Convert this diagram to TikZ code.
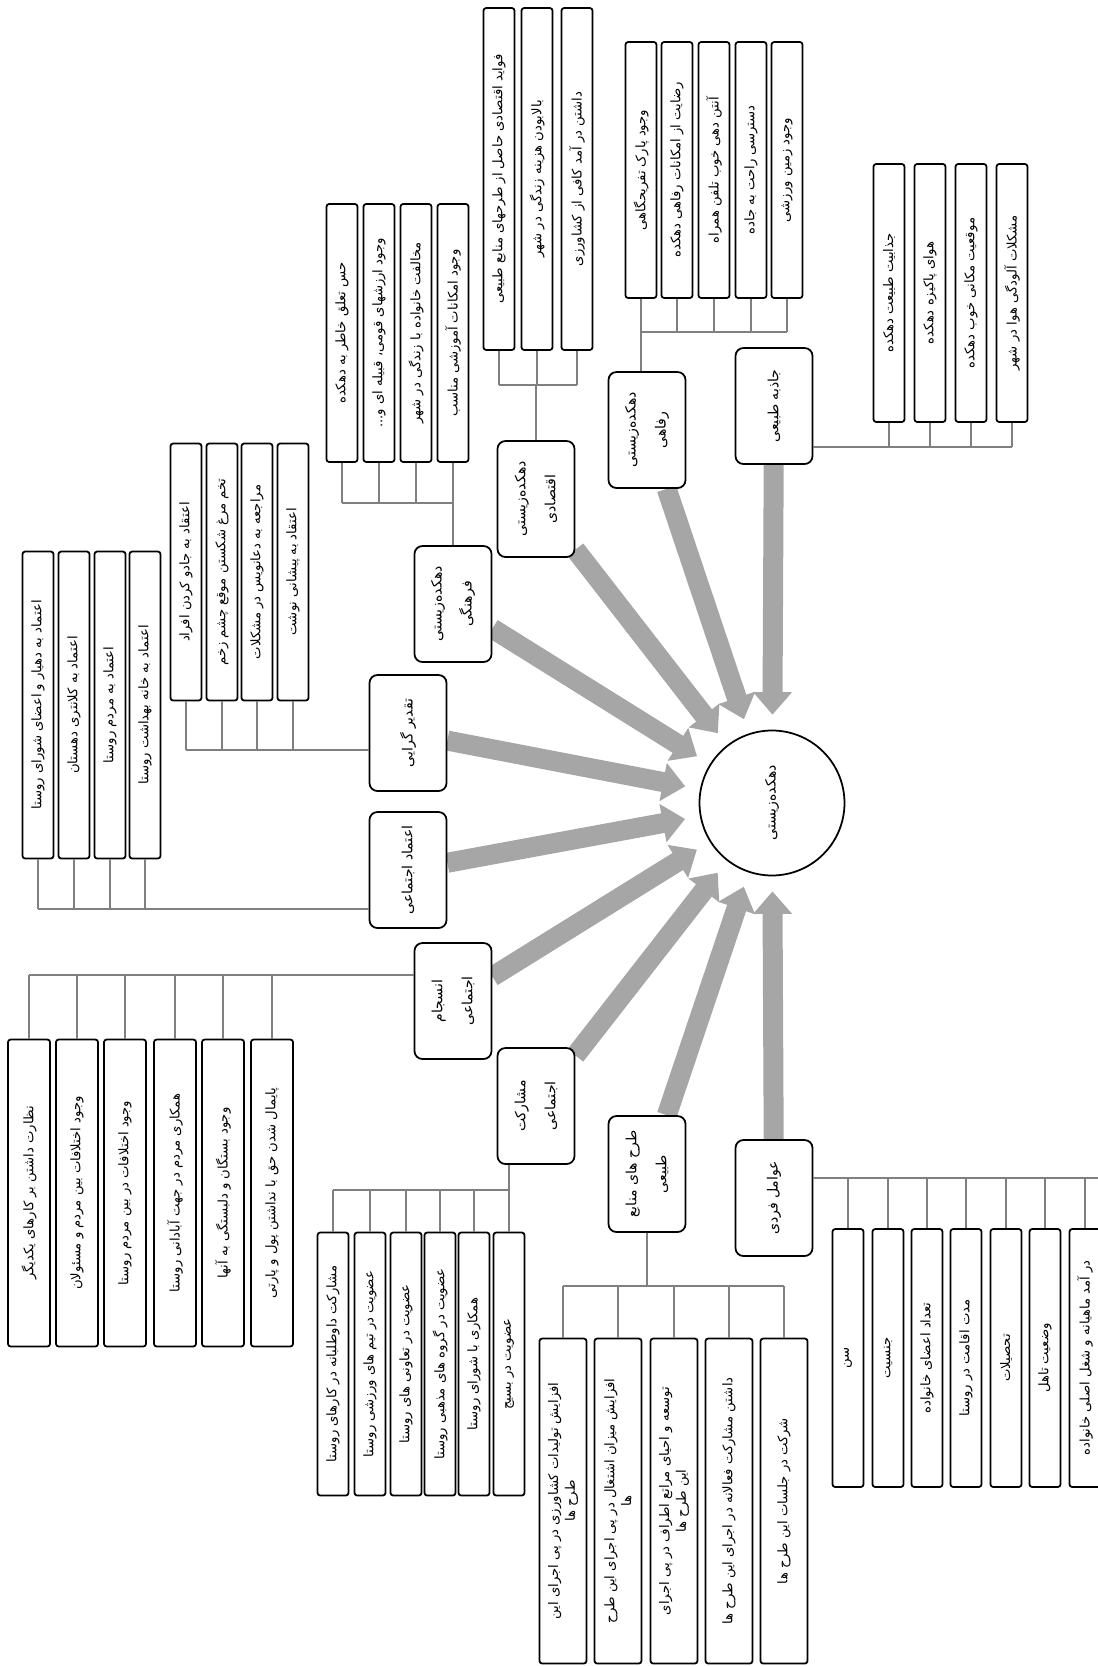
\documentclass[tikz,border=0pt]{standalone}
\usepackage{fontspec}
\usepackage{tikz}
\usetikzlibrary{arrows.meta,backgrounds}
\TeXXeTstate=1
\newfontfamily\fafont[Script=Arabic]{DejaVu Sans}
\newcommand{\fa}[1]{\beginR #1\endR}
\definecolor{arrowgray}{RGB}{166,166,166}
\definecolor{linkgray}{RGB}{128,128,128}
\tikzset{
  hub/.style={circle,draw=black,line width=1pt,fill=white,minimum size=2.9cm,rotate=90,
              font=\fafont\fontsize{8}{10}\selectfont},
  factor/.style={rectangle,rounded corners=4.5pt,draw=black,line width=1pt,fill=white,rotate=90,
              minimum width=2.32cm,minimum height=1.54cm,align=center,font=\fafont\fontsize{8}{17}\selectfont},
  item/.style={rectangle,rounded corners=1.5pt,draw=black,line width=1pt,fill=white,rotate=90,
              minimum width=#1,minimum height=0.62cm,inner sep=1pt,align=center,
              font=\fafont\fontsize{7.5}{9.5}\selectfont},
  item/.default=5.16cm,
  link/.style={draw=linkgray,line width=0.6pt},
  push/.style={draw=arrowgray,line width=0.4cm,-{Triangle[width=0.75cm,length=0.45cm]},shorten >=0.3cm},
}

\begin{document}
\begin{tikzpicture}[x=0.02cm,y=-0.02cm]
  \useasboundingbox (0,0) rectangle (1098,1666);
  \node[hub] (hub) at (772,803) {\fa{دهکده‌زیستی}};

  \node[factor] (jazbeh) at (774,406) {\fa{جاذبه طبیعی}};
  \node[factor] (refahi) at (647,430) {\fa{دهکده‌زیستی}\\\fa{رفاهی}};
  \node[factor] (eqtesadi) at (536,499) {\fa{دهکده‌زیستی}\\\fa{اقتصادی}};
  \node[factor] (farhangi) at (453,604) {\fa{دهکده‌زیستی}\\\fa{فرهنگی}};
  \node[factor] (taqdir) at (408,733) {\fa{تقدیر گرایی}};
  \node[factor] (etemad) at (408,870) {\fa{اعتماد اجتماعی}};
  \node[factor] (ensejam) at (453,1001) {\fa{انسجام}\\\fa{اجتماعی}};
  \node[factor] (mosharekat) at (536,1106) {\fa{مشارکت}\\\fa{اجتماعی}};
  \node[factor] (tarh) at (647,1174) {\fa{طرح های منابع}\\\fa{طبیعی}};
  \node[factor] (fardi) at (774,1198) {\fa{عوامل فردی}};

  % jazbeh tabiei
  \node[item] (a1) at (889,293) {\fa{جذابیت طبیعت دهکده}};
  \node[item] (a2) at (930,293) {\fa{هوای پاکیزه دهکده}};
  \node[item] (a3) at (971,293) {\fa{موقعیت مکانی خوب دهکده}};
  \node[item] (a4) at (1012,293) {\fa{مشکلات آلودگی هوا در شهر}};
  % refahi
  \node[item=5.12cm] (b1) at (641,170) {\fa{وجود پارک تفریحگاهی}};
  \node[item=5.12cm] (b2) at (677,170) {\fa{رضایت از امکانات رفاهی دهکده}};
  \node[item=5.12cm] (b3) at (714,170) {\fa{آنتن دهی خوب تلفن همراه}};
  \node[item=5.12cm] (b4) at (751,170) {\fa{دسترسی راحت به جاده}};
  \node[item=5.12cm] (b5) at (787,170) {\fa{وجود زمین ورزشی}};
  % eqtesadi
  \node[item=6.84cm] (c1) at (499,179) {\fa{فواید اقتصادی حاصل از طرحهای منابع طبیعی}};
  \node[item=6.84cm] (c2) at (537,179) {\fa{بالابودن هزینه زندگی در شهر}};
  \node[item=6.84cm] (c3) at (577,179) {\fa{داشتن در آمد کافی از کشاورزی}};
  % farhangi
  \node[item] (d1) at (342,333) {\fa{حس تعلق خاطر به دهکده}};
  \node[item] (d2) at (379,333) {\fa{وجود ارزشهای قومی، قبیله ای و...}};
  \node[item] (d3) at (416,333) {\fa{مخالفت خانواده با زندگی در شهر}};
  \node[item] (d4) at (453,333) {\fa{وجود امکانات آموزشی مناسب}};
  % taqdir garaei
  \node[item=5.14cm] (e1) at (186,572) {\fa{اعتقاد به جادو کردن افراد}};
  \node[item=5.14cm] (e2) at (222,572) {\fa{تخم مرغ شکستن موقع چشم زخم}};
  \node[item=5.14cm] (e3) at (257,572) {\fa{مراجعه به دعانویس در مشکلات}};
  \node[item=5.14cm] (e4) at (293,572) {\fa{اعتقاد به پیشانی نوشت}};
  % etemad
  \node[item=6.14cm] (f1) at (38,705) {\fa{اعتماد به دهیار و اعضای شورای روستا}};
  \node[item=6.14cm] (f2) at (74,705) {\fa{اعتماد به کلانتری دهستان}};
  \node[item=6.14cm] (f3) at (110,705) {\fa{اعتماد به مردم روستا}};
  \node[item=6.14cm] (f4) at (145,705) {\fa{اعتماد به خانه بهداشت روستا}};
  % ensejam
  \node[item=6.14cm,minimum height=0.84cm] (g1) at (29,1193) {\fa{نظارت داشتن بر کارهای یکدیگر}};
  \node[item=6.14cm,minimum height=0.84cm] (g2) at (77,1193) {\fa{وجود اختلافات بین مردم و مسئولان}};
  \node[item=6.14cm,minimum height=0.84cm] (g3) at (125,1193) {\fa{وجود اختلافات در بین مردم روستا}};
  \node[item=6.14cm,minimum height=0.84cm] (g4) at (175,1193) {\fa{همکاری مردم در جهت آبادانی روستا}};
  \node[item=6.14cm,minimum height=0.84cm] (g5) at (223,1193) {\fa{وجود بستگان و دلبستگی به آنها}};
  \node[item=6.14cm,minimum height=0.84cm] (g6) at (272,1193) {\fa{پایمال شدن حق با نداشتن پول و پارتی}};
  % mosharekat
  \node[item=5.26cm] (h1) at (333,1364) {\fa{مشارکت داوطلبانه در کارهای روستا}};
  \node[item=5.26cm] (h2) at (370,1364) {\fa{عضویت در تیم های ورزشی روستا}};
  \node[item=5.26cm] (h3) at (406,1364) {\fa{عضویت در تعاونی های روستا}};
  \node[item=5.26cm] (h4) at (440,1364) {\fa{عضویت در گروه های مذهبی روستا}};
  \node[item=5.26cm] (h5) at (474,1364) {\fa{همکاری با شورای روستا}};
  \node[item=5.26cm] (h6) at (509,1364) {\fa{عضویت در بسیج}};
  % tarh
  \node[item=6.5cm,minimum height=0.94cm] (i1) at (563,1501) {\fa{افزایش تولیدات کشاورزی در پی اجرای این}\\\fa{طرح ها}};
  \node[item=6.5cm,minimum height=0.94cm] (i2) at (618,1501) {\fa{افزایش میزان اشتغال در پی اجرای این طرح}\\\fa{ها}};
  \node[item=6.5cm,minimum height=0.94cm] (i3) at (674,1501) {\fa{توسعه و احیای مراتع اطراف در پی اجرای}\\\fa{این طرح ها}};
  \node[item=6.5cm,minimum height=0.94cm] (i4) at (729,1501) {\fa{داشتن مشارکت فعالانه در اجرای این طرح ها}};
  \node[item=6.5cm,minimum height=0.94cm] (i5) at (784,1501) {\fa{شرکت در جلسات این طرح ها}};
  % fardi
  \node[item] (j1) at (848,1358) {\fa{سن}};
  \node[item] (j2) at (888,1358) {\fa{جنسیت}};
  \node[item] (j3) at (927,1358) {\fa{تعداد اعضای خانواده}};
  \node[item] (j4) at (966,1358) {\fa{مدت اقامت در روستا}};
  \node[item] (j5) at (1006,1358) {\fa{تحصیلات}};
  \node[item] (j6) at (1045,1358) {\fa{وضعیت تاهل}};
  \node[item] (j7) at (1085,1358) {\fa{در آمد ماهیانه و شغل اصلی خانواده}};

  \coordinate (busA) at (1012,447);
  \coordinate (busB) at (787,332);
  \coordinate (busC) at (499,385);
  \coordinate (busD) at (342,503);
  \coordinate (busE) at (186,750);
  \coordinate (busF) at (38,909);
  \coordinate (busG) at (29,975);
  \coordinate (busH) at (333,1190);
  \coordinate (busI) at (563,1286);
  \coordinate (busJ) at (1098,1178);

  \draw[link] (jazbeh.south |- busA) -- (busA);
  \draw[link] (b1.west |- refahi.east) -- (b1.west |- busB) -- (busB);
  \draw[link] (eqtesadi.east) -- (eqtesadi.east |- busC);
  \draw[link] (busC) -- (c3.west |- busC);
  \draw[link] (d4.west |- farhangi.east) -- (d4.west |- busD) -- (busD);
  \draw[link] (busE) -- (taqdir.north |- busE);
  \draw[link] (busF) -- (etemad.north |- busF);
  \draw[link] (busG) -- (ensejam.north |- busG);
  \draw[link] (h6.east |- mosharekat.west) -- (h6.east |- busH) -- (busH);
  \draw[link] (tarh.west) -- (tarh.west |- busI);
  \draw[link] (busI) -- (i5.east |- busI);
  \draw[link] (fardi.south |- busJ) -- (busJ);
  \foreach \n in {a1,a2,a3,a4} \draw[link] (\n.west) -- (\n.west |- busA);
  \foreach \n in {b1,b2,b3,b4,b5} \draw[link] (\n.west) -- (\n.west |- busB);
  \foreach \n in {c1,c2,c3} \draw[link] (\n.west) -- (\n.west |- busC);
  \foreach \n in {d1,d2,d3,d4} \draw[link] (\n.west) -- (\n.west |- busD);
  \foreach \n in {e1,e2,e3,e4} \draw[link] (\n.west) -- (\n.west |- busE);
  \foreach \n in {f1,f2,f3,f4} \draw[link] (\n.west) -- (\n.west |- busF);
  \foreach \n in {g1,g2,g3,g4,g5,g6} \draw[link] (\n.east) -- (\n.east |- busG);
  \foreach \n in {h1,h2,h3,h4,h5,h6} \draw[link] (\n.east) -- (\n.east |- busH);
  \foreach \n in {i1,i2,i3,i4,i5} \draw[link] (\n.east) -- (\n.east |- busI);
  \foreach \n in {j1,j2,j3,j4,j5,j6,j7} \draw[link] (\n.east) -- (\n.east |- busJ);

  \begin{scope}[on background layer]
    \foreach \n in {jazbeh,refahi,eqtesadi,farhangi,taqdir,etemad,ensejam,mosharekat,tarh,fardi}
      \draw[push] (\n) -- (hub);
  \end{scope}
\end{tikzpicture}
\end{document}
